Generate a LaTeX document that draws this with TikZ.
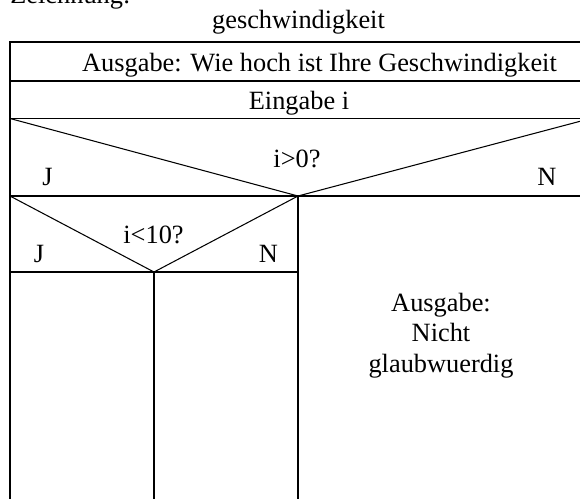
\documentclass[tikz,border=0pt]{standalone}
\usepackage{fontspec}
\setmainfont{Liberation Serif}
\usetikzlibrary{positioning}
\tikzset{
  struk/.style={line width=0.6pt,black},
  lbl/.style={inner sep=0pt,anchor=base,font=\fontsize{15}{17}\selectfont},
  multilbl/.style={inner sep=0pt,align=center,font=\fontsize{15}{17.2}\selectfont}
}

\begin{document}
\begin{tikzpicture}[
  x=0.02cm,
  y=-0.02cm
]

\clip (0,0) rectangle (580,498);
\fill[white] (0,0) rectangle (580,498);

% title (cut off at top)
\node[lbl,anchor=base west] (head) at (10,3) {Zeichnung:};
\node[lbl] (title) at (298.5,28) {geschwindigkeit};

% outer frame and rows
\draw[struk] (10,512) -- (10,42) -- (600,42) -- (600,512);
\draw[struk] (10,81) -- (600,81);
\draw[struk] (10,118.5) -- (600,118.5);
\draw[struk] (10,196) -- (600,196);

\node[lbl] (ausgabe) at (319.5,71.5) {Ausgabe: Wie hoch ist Ihre Geschwindigkeit};
\node[lbl] (eingabe) at (299,109) {Eingabe i};

% decision i>0
\draw[struk] (10,118.5) -- (298,196) -- (600,116);
\node[lbl] (cond1) at (297,167) {i>0?};
\node[lbl] (yes1) at (47.5,185) {J};
\node[lbl] (no1) at (547,185) {N};

% decision i<10
\draw[struk] (298,196) -- (298,512);
\draw[struk] (10,196) -- (154,272) -- (298,196);
\draw[struk] (10,272) -- (298,272);
\draw[struk] (154,272) -- (154,512);
\node[lbl] (cond2) at (153.5,243) {i<10?};
\node[lbl] (yes2) at (39,262) {J};
\node[lbl] (no2) at (268.5,262) {N};

% no branch
\node[multilbl,anchor=base] (nicht) at (441,372)
  {Ausgabe:\\Nicht\\glaubwuerdig};

\end{tikzpicture}
\end{document}
